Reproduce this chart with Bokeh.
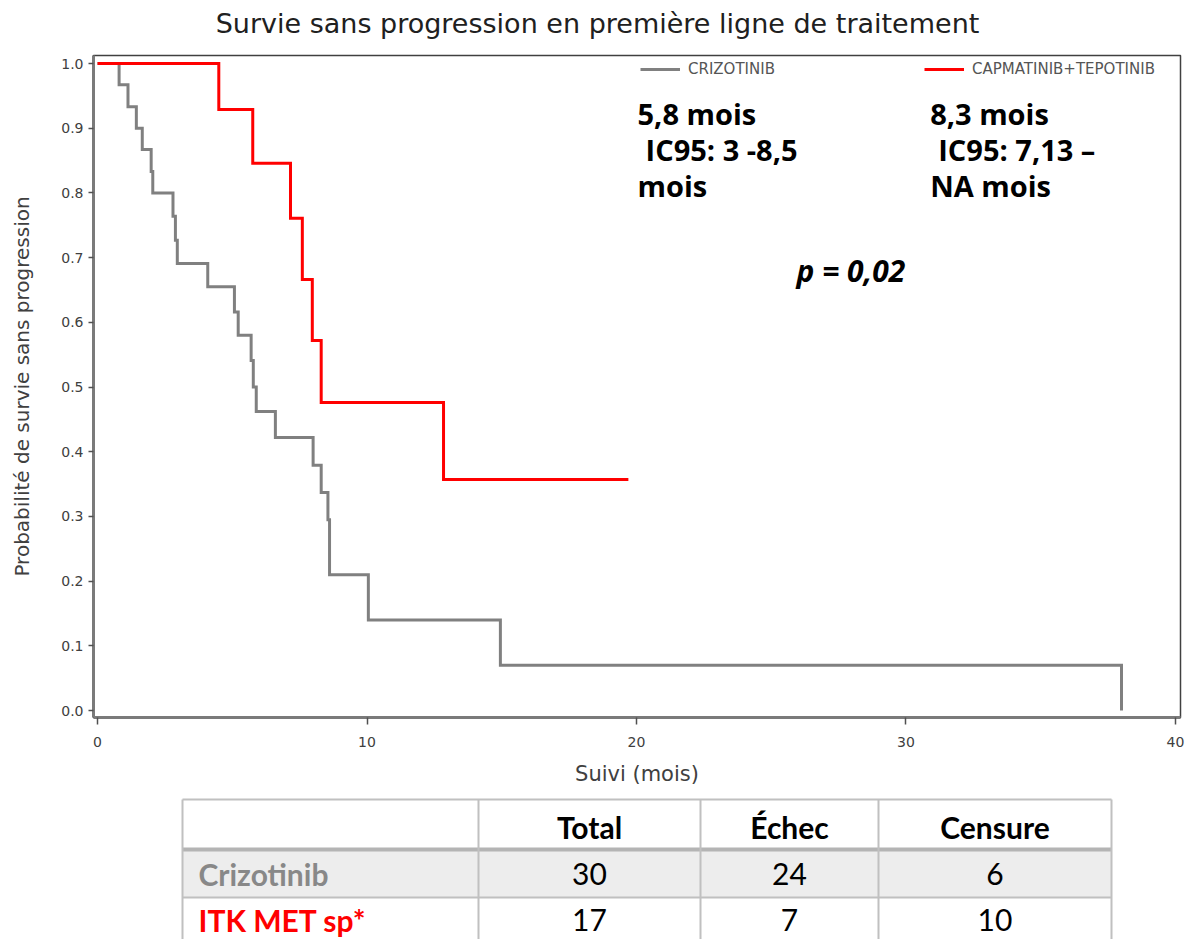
from bokeh.plotting import figure
from bokeh.layouts import column
from bokeh.models import Range1d, Label, Legend, LegendItem, FixedTicker, NumeralTickFormatter
from bokeh.embed import file_html
from bokeh.resources import INLINE
from bokeh.core.properties import value

# ---- data -------------------------------------------------------------
chart_title = "Survie sans progression en première ligne de traitement"
x_label = "Suivi (mois)"
y_label = "Probabilité de survie sans progression"

x_ticks = [0, 10, 20, 30, 40]
y_ticks = [0.0, 0.1, 0.2, 0.3, 0.4, 0.5, 0.6, 0.7, 0.8, 0.9, 1.0]

# Kaplan-Meier steps: time (months) and survival probability after each step
crizo_time = [0, 0.8, 1.13, 1.44, 1.66, 1.99, 2.05, 2.8, 2.89, 2.96, 4.09, 5.08,
              5.22, 5.7, 5.78, 5.89, 6.6, 8.0, 8.3, 8.55, 8.61, 10.05, 14.95, 38.0]
crizo_surv = [1.0, 0.967, 0.933, 0.900, 0.867, 0.833, 0.800, 0.764, 0.727, 0.691, 0.655, 0.616,
              0.580, 0.541, 0.500, 0.462, 0.422, 0.379, 0.337, 0.295, 0.210, 0.140, 0.070, 0.0]

itk_time = [0, 4.5, 5.76, 7.16, 7.6, 7.97, 8.3, 12.84, 19.7]
itk_surv = [1.0, 0.929, 0.846, 0.761, 0.666, 0.572, 0.476, 0.357, 0.357]

legend_labels = ["CRIZOTINIB", "CAPMATINIB+TEPOTINIB"]

median_crizo = ["5,8 mois", "IC95: 3 -8,5", "mois"]
median_itk = ["8,3 mois", "IC95: 7,13 –", "NA mois"]
p_value = "p = 0,02"

table_headers = ["Total", "Échec", "Censure"]
table_rows = ["Crizotinib", "ITK MET sp*"]
table_total = [30, 17]
table_echec = [24, 7]
table_censure = [6, 10]

GRAY = "#808080"
RED = "#ff0000"


def blank_strip(height):
    """A plain figure whose x maps to page pixels and y to pixels from its top."""
    f = figure(width=1187, height=height, output_backend="svg", toolbar_location=None,
               x_range=Range1d(93, 1180), y_range=Range1d(height, 0),
               x_axis_type=None, y_axis_type=None,
               min_border_left=93, min_border_right=7, min_border_top=0, min_border_bottom=0)
    f.xgrid.visible = False
    f.ygrid.visible = False
    f.outline_line_color = None
    return f


# ---- title strip ------------------------------------------------------
head = blank_strip(45)
head.text(x=[597], y=[23], text=[chart_title], text_align="center", text_baseline="middle",
          text_font=value("DejaVu Sans"), text_font_size="27px", text_color="#202020")

# ---- survival plot ----------------------------------------------------
p = figure(width=1187, height=745, output_backend="svg", toolbar_location=None,
           x_range=Range1d(-0.15, 40.19), y_range=Range1d(-0.0108, 1.0124),
           min_border_left=93, min_border_right=7, min_border_top=10, min_border_bottom=73)
p.xgrid.visible = False
p.ygrid.visible = False
p.outline_line_color = "#404040"
p.outline_line_width = 1.5
p.background_fill_color = "white"
p.border_fill_color = "white"

r_gray = p.step(crizo_time, crizo_surv, mode="after", line_color=GRAY, line_width=3,
                line_join="miter")
r_red = p.step(itk_time, itk_surv, mode="after", line_color=RED, line_width=3,
               line_join="miter")

p.xaxis.ticker = FixedTicker(ticks=x_ticks)
p.yaxis.ticker = FixedTicker(ticks=y_ticks)
p.yaxis.formatter = NumeralTickFormatter(format="0.0")
for ax in (p.xaxis, p.yaxis):
    ax.axis_line_color = "#7a7a7a"
    ax.axis_line_width = 3
    ax.major_tick_line_color = "#505050"
    ax.major_tick_line_width = 1.5
    ax.major_tick_in = 0
    ax.minor_tick_line_color = None
    ax.major_label_text_font = "DejaVu Sans"
    ax.major_label_text_font_size = "14px"
    ax.major_label_text_color = "#404040"
    ax.axis_label_text_font = "DejaVu Sans"
    ax.axis_label_text_font_style = "normal"
    ax.axis_label_text_color = "#404040"
p.xaxis.major_tick_out = 7
p.yaxis.major_tick_out = 5
p.xaxis.major_label_standoff = 12
p.yaxis.major_label_standoff = 5
p.xaxis.axis_label = x_label
p.yaxis.axis_label = y_label
p.xaxis.axis_label_text_font_size = "21px"
p.yaxis.axis_label_text_font_size = "20px"
p.xaxis.axis_label_standoff = 12
p.yaxis.axis_label_standoff = 24

# legend: one entry per group, placed along the top of the frame
for label, rend, vx in ((legend_labels[0], r_gray, 547), (legend_labels[1], r_red, 831)):
    leg = Legend(items=[LegendItem(label=label, renderers=[rend])],
                 location=(vx, 639), orientation="horizontal", padding=0, margin=0,
                 border_line_alpha=0, background_fill_alpha=0,
                 glyph_width=40, glyph_height=16, label_height=16, label_standoff=8,
                 label_text_font="DejaVu Sans", label_text_font_size="15px",
                 label_text_color="#555555")
    p.add_layout(leg, "center")

# median PFS annotations
line_y = [0.9225, 0.867, 0.811]
for i, txt in enumerate(median_crizo):
    p.add_layout(Label(x=20.04 + (0.3 if i == 1 else 0), y=line_y[i], text=txt,
                       text_baseline="alphabetic", text_font="Open Sans",
                       text_font_style="bold", text_font_size="29px", text_color="black"))
for i, txt in enumerate(median_itk):
    p.add_layout(Label(x=30.9 + (0.3 if i == 1 else 0), y=line_y[i], text=txt,
                       text_baseline="alphabetic", text_font="Open Sans",
                       text_font_style="bold", text_font_size="29px", text_color="black"))
p.add_layout(Label(x=25.94, y=0.680, text=p_value, text_baseline="alphabetic",
                   text_font="Open Sans", text_font_style="bold italic",
                   text_font_size="30px", text_color="black"))

# ---- summary table ----------------------------------------------------
t = blank_strip(149)

col_edges = [182, 478, 700, 878, 1111]
row_edges = [9, 59, 107, 160]
col_centers = [(col_edges[i] + col_edges[i + 1]) / 2 for i in range(1, 4)]
row_centers = [36, 83, 129]

t.quad(left=col_edges[0], right=col_edges[-1], top=row_edges[1], bottom=row_edges[2],
       fill_color="#ededed", line_color=None)
t.segment(x0=[col_edges[0]] * 2, x1=[col_edges[-1]] * 2, y0=[row_edges[0], row_edges[2]],
          y1=[row_edges[0], row_edges[2]], line_color="#c0c0c0", line_width=2)
t.segment(x0=[col_edges[0]], x1=[col_edges[-1]], y0=[row_edges[1]], y1=[row_edges[1]],
          line_color="#b4b4b4", line_width=4)
t.segment(x0=col_edges, x1=col_edges, y0=[row_edges[0]] * 5, y1=[row_edges[-1]] * 5,
          line_color="#c0c0c0", line_width=2)

t.text(x=col_centers, y=[row_centers[0]] * 3, text=table_headers, text_align="center",
       text_baseline="middle", text_font=value("Lato"), text_font_style="bold",
       text_font_size="30px", text_color="black")
t.text(x=[col_edges[0] + 16] * 2, y=row_centers[1:], text=table_rows, text_align="left",
       text_baseline="middle", text_font=value("Lato"), text_font_style="bold",
       text_font_size="30px", text_color=["#888888", RED])
for j, vals in enumerate((table_total, table_echec, table_censure)):
    t.text(x=[col_centers[j]] * 2, y=row_centers[1:], text=[str(v) for v in vals],
           text_align="center", text_baseline="middle", text_font=value("Lato"),
           text_font_size="30px", text_color="black")

layout = column(head, p, t, spacing=0)
open("out.html", "w").write(file_html(layout, INLINE))
